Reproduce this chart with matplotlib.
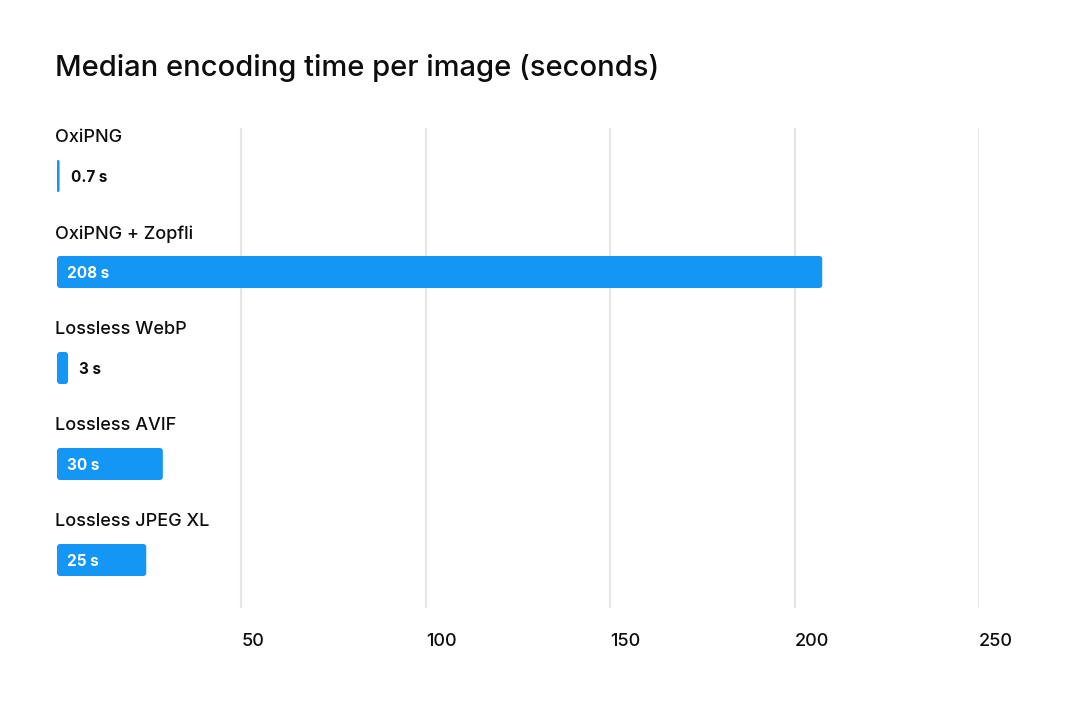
import matplotlib
matplotlib.use("Agg")
import matplotlib.pyplot as plt
from matplotlib.patches import FancyBboxPatch

categories = ["OxiPNG", "OxiPNG + Zopfli", "Lossless WebP", "Lossless AVIF", "Lossless JPEG XL"]
values = [0.7, 207.5, 3, 28.7, 24.2]
value_labels = ["0.7 s", "208 s", "3 s", "30 s", "25 s"]
xticks = [50, 100, 150, 200, 250]
xtick_labels = ["50", "100", "150", "200", "250"]
title = "Median encoding time per image (seconds)"

BAR = "#1496F4"
TXT = "#0d0d0d"
GRID = "#e6e6e6"
FONT = ["Inter", "DejaVu Sans"]
plt.rcParams["font.family"] = FONT

W, H = 1080, 705
fig = plt.figure(figsize=(W / 100, H / 100), dpi=100)
left_px, right_px, top_px, bot_px = 57, 979, 128, 608
ax = fig.add_axes([left_px / W, 1 - bot_px / H, (right_px - left_px) / W, (bot_px - top_px) / H])

ypos = list(range(len(categories)))
bars = ax.barh(ypos, values, height=0.333, color=BAR)
ax.set_xlim(0, 250)
ax.set_ylim(len(categories) - 0.5, -0.5)

# rounded corners
px_x = (right_px - left_px) / 250.0
px_y = (bot_px - top_px) / len(categories)
r_px = 3.0
for b in bars:
    x0, y0 = b.get_x(), b.get_y()
    w, h = b.get_width(), b.get_height()
    rx = min(r_px / px_x, w / 2 * 0.99)
    asp = (r_px / px_y) / (r_px / px_x)
    p = FancyBboxPatch((x0, y0), w, h,
                       boxstyle=f"round,pad=0,rounding_size={rx}",
                       mutation_aspect=asp, facecolor=BAR, edgecolor="none", zorder=3)
    b.set_visible(False)
    ax.add_patch(p)

for xt in xticks:
    ax.axvline(xt, color=GRID, lw=1.6, zorder=0)

for i, (v, lab, cat) in enumerate(zip(values, value_labels, categories)):
    bar_px = v * px_x
    if bar_px > 60:
        ax.annotate(lab, (0, i), xytext=(10, -1), textcoords="offset pixels",
                    ha="left", va="center", color="white", fontsize=11, fontweight="bold", zorder=4)
    else:
        ax.annotate(lab, (v, i), xytext=(11, -1), textcoords="offset pixels",
                    ha="left", va="center", color=TXT, fontsize=11, fontweight="bold", zorder=4)
    ax.annotate(cat, (0, i), xytext=(-2, 38), textcoords="offset pixels",
                ha="left", va="center", color=TXT, fontsize=13, fontweight=500, zorder=4)

ax.set_xticks(xticks)
ax.set_xticklabels(xtick_labels, fontsize=13, color=TXT, fontweight=500)
for t in ax.get_xticklabels():
    t.set_ha("left")
ax.tick_params(axis="x", length=0, pad=18)
ax.set_yticks([])
for s in ax.spines.values():
    s.set_visible(False)

fig.text(55 / W, 1 - 68 / H, title, fontsize=21, color=TXT, ha="left", va="center", fontweight=500)

fig.savefig("out.png", dpi=100, facecolor="white")
